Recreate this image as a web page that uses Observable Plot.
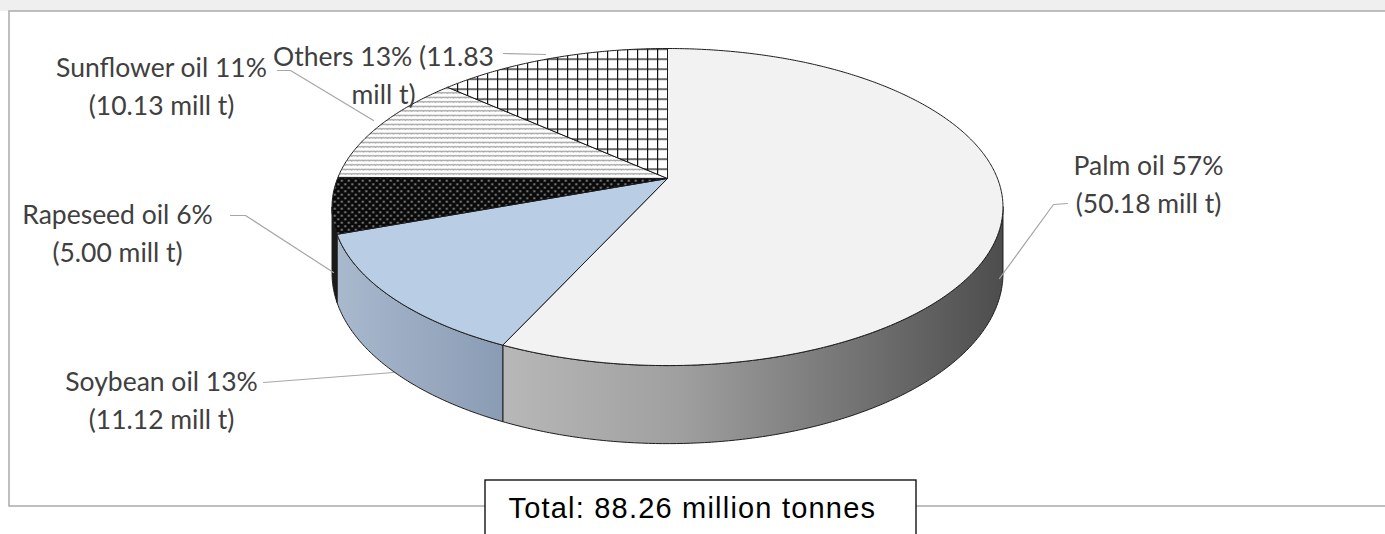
<!DOCTYPE html>
<html><head><meta charset="utf-8">
<script src="https://cdn.jsdelivr.net/npm/d3@7"></script>
<script src="https://cdn.jsdelivr.net/npm/@observablehq/plot@0.6"></script>
<style>body{margin:0;background:#fff} svg{display:block}</style>
</head><body><div id="chart"></div>
<script>
// ---------- data ----------
const categories = ["Palm oil", "Soybean oil", "Rapeseed oil", "Sunflower oil", "Others"];
const valuesMt = [50.18, 11.12, 5.00, 10.13, 11.83];
const shareLabels = ["57%", "13%", "6%", "11%", "13%"];
const amountLabels = ["50.18", "11.12", "5.00", "10.13", "11.83"];
const totalLabel = "Total: 88.26 million tonnes";

// ---------- layout / styles ----------
const W = 1385, H = 534;
const pie = {cx: 667, cy: 178, sx: 330, sy: 153.4, k: 0.18, depth: 64};
const labelPos = [[1148, 148], [161, 364], [117, 197], [161, 50], [383, 39]];
const breakAfterAmount = [false, false, false, false, true];
const leaderPts = [
  [[1067, 203], [1053, 204], [999, 278]],
  [[263, 382], [393, 372]],
  [[230, 215], [245, 215], [333, 272]],
  [[277, 70], [290, 70], [373, 120]],
  [[503, 53], [545, 54]]
];
const topFills = ["#f2f2f2", "#b9cde5", "url(#pRape)", "url(#pSun)", "url(#pOth)"];
const sideFills = ["url(#gPalm)", "url(#gSoy)", "#1a1a1a", "#cccccc", "#dddddd"];

// ---------- geometry ----------
const arcs = d3.pie().sort(null).startAngle(0).endAngle(2 * Math.PI)(valuesMt);
function proj(t, drop = 0) {
  const X = Math.sin(t), Z = Math.cos(t), d = 1 + pie.k * Z;
  return {x: pie.cx + pie.sx * X / d, y: pie.cy - pie.sy * Z / d + drop / d};
}
function arcPts(a, b, drop = 0) {
  const n = Math.max(2, Math.ceil((b - a) / (Math.PI / 360)));
  return d3.range(n + 1).map(i => proj(a + (b - a) * i / n, drop));
}
const center = {x: pie.cx, y: pie.cy};
const tR = Math.acos(-pie.k), tL = 2 * Math.PI - tR;

const marks = [];
// background band above frame
marks.push(Plot.rect([{x1: 0, x2: W, y1: 0, y2: 11}], {x1: "x1", x2: "x2", y1: "y1", y2: "y2", fill: "#efefef"}));
// frame
marks.push(Plot.rect([{x1: 9, x2: W + 5, y1: 11, y2: 506}], {x1: "x1", x2: "x2", y1: "y1", y2: "y2", fill: "white", stroke: "#b0b0b0", strokeWidth: 1.6}));

// sides
arcs.forEach((s, i) => {
  const a = Math.max(s.startAngle, tR), b = Math.min(s.endAngle, tL);
  if (b <= a) return;
  const pts = [...arcPts(a, b), ...arcPts(a, b, pie.depth).reverse()];
  pts.push(pts[0]);
  marks.push(Plot.line(pts, {x: "x", y: "y", fill: sideFills[i], stroke: "#1c1c1c", strokeWidth: 1, strokeLinejoin: "round"}));
});
// tops
arcs.forEach((s, i) => {
  const pts = [center, ...arcPts(s.startAngle, s.endAngle), center];
  marks.push(Plot.line(pts, {x: "x", y: "y", fill: topFills[i], stroke: "#1c1c1c", strokeWidth: 1, strokeLinejoin: "round"}));
});
// leaders
leaderPts.forEach(p => {
  marks.push(Plot.line(p.map(([x, y]) => ({x, y})), {x: "x", y: "y", stroke: "#a6a6a6", strokeWidth: 1.2}));
});
// labels
const labelRows = categories.map((c, i) => ({
  x: labelPos[i][0], y: labelPos[i][1],
  text: breakAfterAmount[i]
    ? `${c} ${shareLabels[i]} (${amountLabels[i]}\nmill t)`
    : `${c} ${shareLabels[i]}\n(${amountLabels[i]} mill t)`
}));
marks.push(Plot.text(labelRows, {x: "x", y: "y", text: "text", lineAnchor: "top", lineHeight: 1.43,
  fontFamily: "Lato", fontSize: 26.5, fill: "#404040", textAnchor: "middle"}));
// total box
marks.push(Plot.rect([{x1: 485, x2: 916, y1: 480, y2: 540}], {x1: "x1", x2: "x2", y1: "y1", y2: "y2", fill: "white", stroke: "#000", strokeWidth: 1.3}));
marks.push(Plot.text([{x: 508, y: 497, text: totalLabel}], {x: "x", y: "y", text: "text", lineAnchor: "top", textAnchor: "start",
  fontFamily: "Liberation Sans, Arial", fontSize: 29, fill: "#000", className: "total-label"}));

const chart = Plot.plot({
  width: W, height: H, margin: 0,
  x: {domain: [0, W], range: [0, W], axis: null},
  y: {domain: [0, H], range: [0, H], axis: null},
  style: {background: "white", overflow: "visible"},
  marks
});

d3.select(chart).selectAll(".total-label text").style("letter-spacing", "1.2px");

const defs = d3.select(chart).insert("defs", ":first-child");
const gp = defs.append("linearGradient").attr("id", "gPalm").attr("gradientUnits", "userSpaceOnUse")
  .attr("x1", 500).attr("x2", 1003).attr("y1", 0).attr("y2", 0);
[[0, "#b8b8b8"], [0.35, "#a0a0a0"], [0.7, "#747474"], [1, "#4d4d4d"]].forEach(([o, c]) => gp.append("stop").attr("offset", o).attr("stop-color", c));
const gs = defs.append("linearGradient").attr("id", "gSoy").attr("gradientUnits", "userSpaceOnUse")
  .attr("x1", 333).attr("x2", 503).attr("y1", 0).attr("y2", 0);
[[0, "#a9b9ce"], [1, "#8a9cb4"]].forEach(([o, c]) => gs.append("stop").attr("offset", o).attr("stop-color", c));
// rapeseed: black with white dots
const pr = defs.append("pattern").attr("id", "pRape").attr("patternUnits", "userSpaceOnUse").attr("width", 7).attr("height", 7);
pr.append("rect").attr("width", 7).attr("height", 7).attr("fill", "#0a0a0a");
pr.append("ellipse").attr("cx", 1.8).attr("cy", 1.8).attr("rx", 1.1).attr("ry", 0.8).attr("fill", "#d0d0d0");
pr.append("ellipse").attr("cx", 5.3).attr("cy", 5.3).attr("rx", 1.1).attr("ry", 0.8).attr("fill", "#d0d0d0");
// sunflower: zigzag rows
const ps = defs.append("pattern").attr("id", "pSun").attr("patternUnits", "userSpaceOnUse").attr("width", 6).attr("height", 4.5);
ps.append("rect").attr("width", 6).attr("height", 4.5).attr("fill", "#ffffff");
ps.append("path").attr("d", "M0,3.2 L1.5,1.7 L3,3.2 L4.5,1.7 L6,3.2").attr("fill", "none").attr("stroke", "#555").attr("stroke-width", 0.9);
// others: grid
const po = defs.append("pattern").attr("id", "pOth").attr("patternUnits", "userSpaceOnUse").attr("width", 10).attr("height", 10)
  .attr("x", 667 - 0.5).attr("y", 48);
po.append("rect").attr("width", 10).attr("height", 10).attr("fill", "#ffffff");
po.append("path").attr("d", "M0,0.6 H10 M0.6,0 V10").attr("stroke", "#111").attr("stroke-width", 1.2);

document.getElementById("chart").appendChild(chart);
</script>
</body></html>
